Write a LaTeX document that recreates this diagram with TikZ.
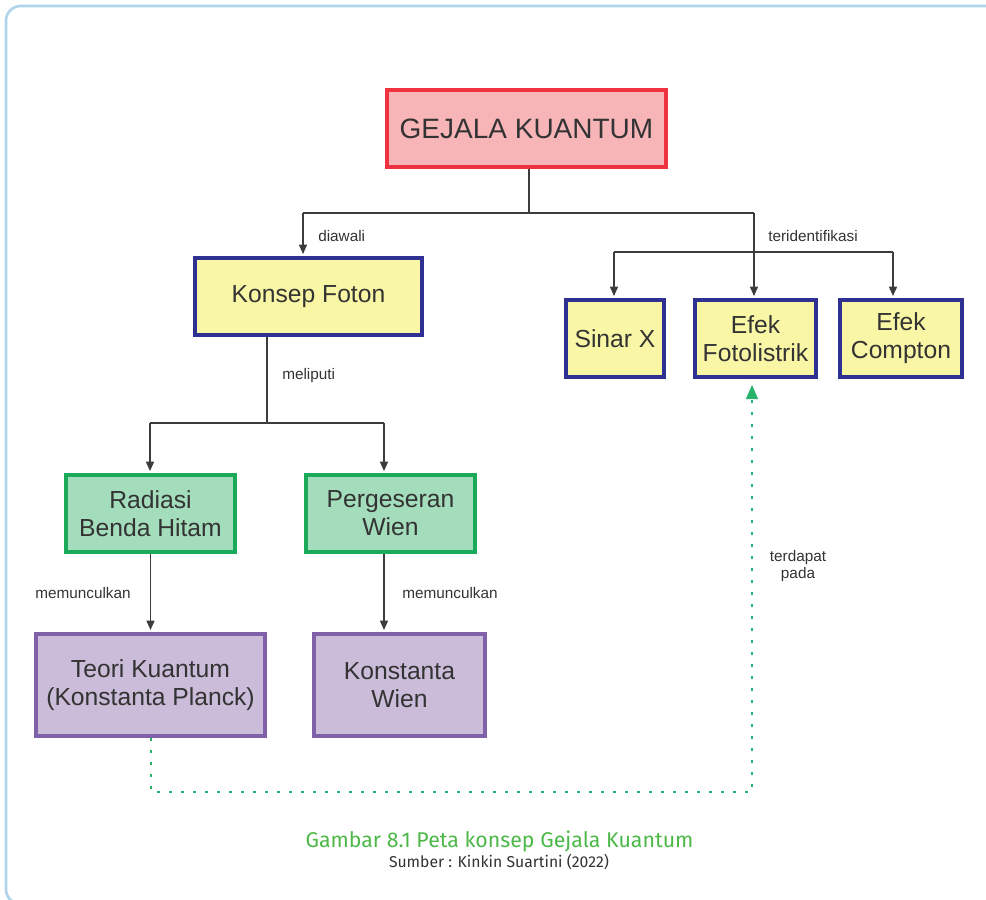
\documentclass[tikz,border=0pt]{standalone}
\usepackage{fontspec}
\setmainfont{Liberation Sans}
\newfontfamily\firafont{Fira Sans}
\usetikzlibrary{arrows.meta}
\definecolor{txt}{HTML}{333333}
\definecolor{lin}{HTML}{3C3C3C}
\definecolor{redb}{HTML}{EE3240}
\definecolor{redf}{HTML}{F7B5B8}
\definecolor{blueb}{HTML}{2E3192}
\definecolor{yelf}{HTML}{F9F7A5}
\definecolor{greenb}{HTML}{1BAA5A}
\definecolor{greenf}{HTML}{A3DDBC}
\definecolor{purb}{HTML}{8060A8}
\definecolor{purf}{HTML}{CBBCD9}
\definecolor{framec}{HTML}{B0D4EC}
\definecolor{dotg}{HTML}{27B36B}
\definecolor{capg}{HTML}{4DB848}
\tikzset{
  box/.style={draw, line width=3pt, inner sep=0pt, align=center, text=txt,
    font=\fontsize{18.5}{21}\selectfont},
  redbox/.style={box, draw=redb, fill=redf, font=\fontsize{21}{24}\selectfont},
  bluebox/.style={box, draw=blueb, fill=yelf},
  greenbox/.style={box, draw=greenb, fill=greenf},
  purbox/.style={box, draw=purb, fill=purf},
  conn/.style={draw=lin, line width=1.1pt},
  arr/.style={conn, -{Triangle[length=7pt,width=6pt]}, shorten >=1.5pt},
  lbl/.style={text=txt, font=\fontsize{11.5}{14}\selectfont, inner sep=0pt},
  dotline/.style={draw=dotg, line width=1.6pt, dash pattern=on 2.5pt off 6.5pt},
}
\begin{document}
\begin{tikzpicture}[x=0.75pt, y=-0.75pt]
\useasboundingbox (0,0) rectangle (986,900);
\draw[framec, line width=2pt, rounded corners=11pt] (6,6) rectangle (1000,904);

% nodes
\node[redbox, minimum width=209.25pt, minimum height=57.75pt] (gej) at (526.5,128.5) {GEJALA KUANTUM};
\node[bluebox, minimum width=170.25pt, minimum height=57.75pt] (foton) at (308.5,296.5) {Konsep Foton};
\node[bluebox, minimum width=73.5pt, minimum height=57.75pt] (sinar) at (615,338.5) {Sinar X};
\node[bluebox, minimum width=90.75pt, minimum height=57.75pt] (efek) at (755.5,338.5) {Efek\\Fotolistrik};
\node[bluebox, minimum width=91.5pt, minimum height=57.75pt] (compton) at (901,338.5) {Efek\\Compton};
\node[greenbox, minimum width=126.75pt, minimum height=57.75pt] (radiasi) at (150.5,513.5) {Radiasi\\Benda Hitam};
\node[greenbox, minimum width=126.75pt, minimum height=57.75pt] (perg) at (390.5,513.5) {Pergeseran\\Wien};
\node[purbox, minimum width=171.75pt, minimum height=76.5pt] (teori) at (150.5,685) {Teori Kuantum\\(Konstanta Planck)};
\node[purbox, minimum width=128.25pt, minimum height=76.5pt] (wien) at (399.5,685) {Konstanta\\Wien};

% junction coordinates
\coordinate (j1) at (529,213);
\coordinate (jL) at (303,213);
\coordinate (jR) at (754,213);
\coordinate (tL) at (614,252);
\coordinate (tR) at (893,252);
\coordinate (f1) at (267,423);
\coordinate (fL) at (150,423);
\coordinate (fR) at (384,423);
\coordinate (rx) at (150.5,0);
\coordinate (px) at (384,0);
\coordinate (d1) at (151,792);
\coordinate (d2) at (752,792);

% connectors
\draw[conn] (gej.south -| j1) -- (j1);
\draw[conn] (jL) -- (jR);
\draw[arr] (jL) -- (jL |- foton.north);
\draw[arr] (jR) -- (jR |- efek.north);
\draw[conn] (tL) -- (tR);
\draw[arr] (tL) -- (tL |- sinar.north);
\draw[arr] (tR) -- (tR |- compton.north);
\draw[conn] (foton.south -| f1) -- (f1);
\draw[conn] (fL) -- (fR);
\draw[arr] (fL) -- (fL |- radiasi.north);
\draw[arr] (fR) -- (fR |- perg.north);
\draw[arr] (radiasi.south -| rx) -- (teori.north -| rx);
\draw[arr] (perg.south -| px) -- (wien.north -| px);
\draw[dotline] (teori.south -| d1) -- (d1) -- (d2) -- (d2 |- efek.south);
\draw[dotg, -{Triangle[length=10.5pt,width=9pt]}, line width=1pt, shorten >=4.5pt] (d2 |- 0,392) -- (d2 |- efek.south);

% labels
\node[lbl, anchor=west] (l1) at (318,236) {diawali};
\node[lbl, anchor=west] (l2) at (768,236) {teridentifikasi};
\node[lbl, anchor=west] (l3) at (282,376) {meliputi};
\node[lbl, anchor=west] (l4) at (35,593) {memunculkan};
\node[lbl, anchor=west] (l5) at (402,593) {memunculkan};
\node[lbl, align=center, font=\fontsize{11.5}{12.75}\selectfont] (l6) at (798,566) {terdapat\\pada};

% caption
\node[text=capg, font=\firafont\fontsize{16}{18}\selectfont, inner sep=0pt] (cap) at (499.5,841) {Gambar 8.1 Peta konsep Gejala Kuantum};
\node[text=txt, font=\firafont\fontsize{11.8}{13}\selectfont, inner sep=0pt] (src) at (499,862) {Sumber : Kinkin Suartini (2022)};
\end{tikzpicture}
\end{document}
